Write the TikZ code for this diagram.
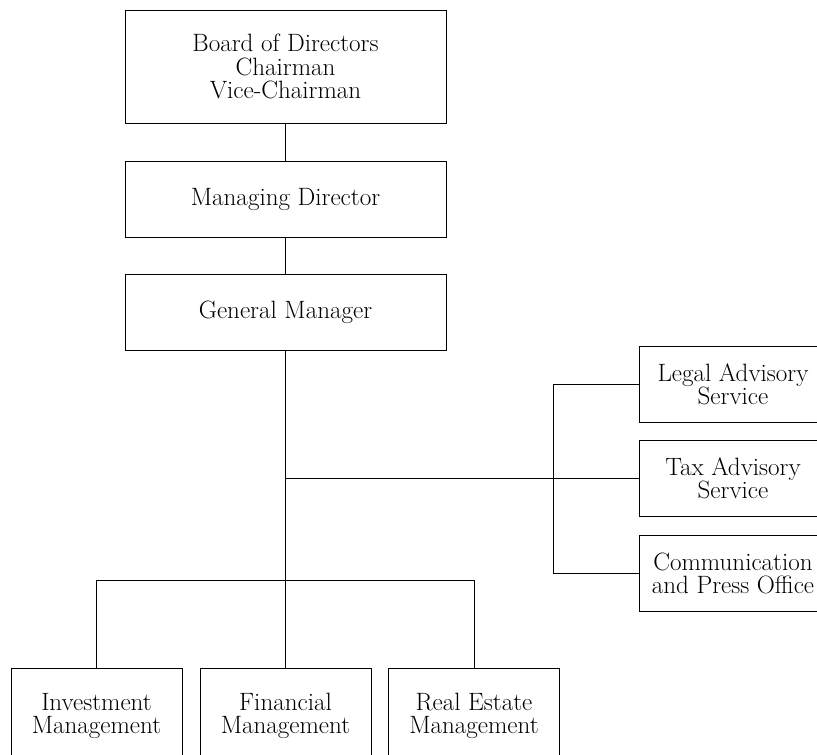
\documentclass[tikz,border=0pt]{standalone}
\usepackage{tikz}

\begin{document}
\begin{tikzpicture}[x=0.75pt,y=0.75pt,yscale=-1,xscale=1,
  unit/.style={draw, line width=0.75pt, align=center, inner sep=0.75pt,
    minimum height=57pt, font=\fontsize{18.8}{17.5}\selectfont},
  topunit/.style={unit, minimum width=240.75pt},
  staff/.style={unit, minimum width=141pt},
  dept/.style={unit, minimum width=128.25pt, minimum height=72pt},
  link/.style={line width=0.7pt}]
\useasboundingbox (0,0) rectangle (817,754);
\clip (0,0) rectangle (817,754);
% Line boxes
\node [topunit, minimum height=84.75pt] (board) at (285.5,66.5) {Board of Directors\\Chairman\\Vice-Chairman};
\node [topunit] (md) at (285.5,199) {Managing Director};
\node [topunit] (gm) at (285.5,312) {General Manager};
% Staff boxes
\node [staff] (legal) at (733,384) {Legal Advisory\\Service};
\node [staff] (tax) at (733,478.5) {Tax Advisory\\Service};
\node [staff] (comm) at (733,573.5) {Communication\\and Press Office};
% Departments
\node [dept] (inv) at (96.5,716) {Investment\\Management};
\node [dept] (fin) at (285.5,716) {Financial\\Management};
\node [dept] (re) at (474,716) {Real Estate\\Management};
% Connectors
\coordinate (bar) at (285.5,580);
\coordinate (brk) at (553,478.5);
\draw [link] (board) -- (md);
\draw [link] (md) -- (gm);
\draw [link] (gm) -- (fin);
\draw [link] (gm.south |- tax.west) -- (tax.west);
\draw [link] (legal.west) -- (legal.west -| brk) -- (comm.west -| brk) -- (comm.west);
\draw [link] (inv.north) |- (bar) -| (re.north);
\end{tikzpicture}
\end{document}
